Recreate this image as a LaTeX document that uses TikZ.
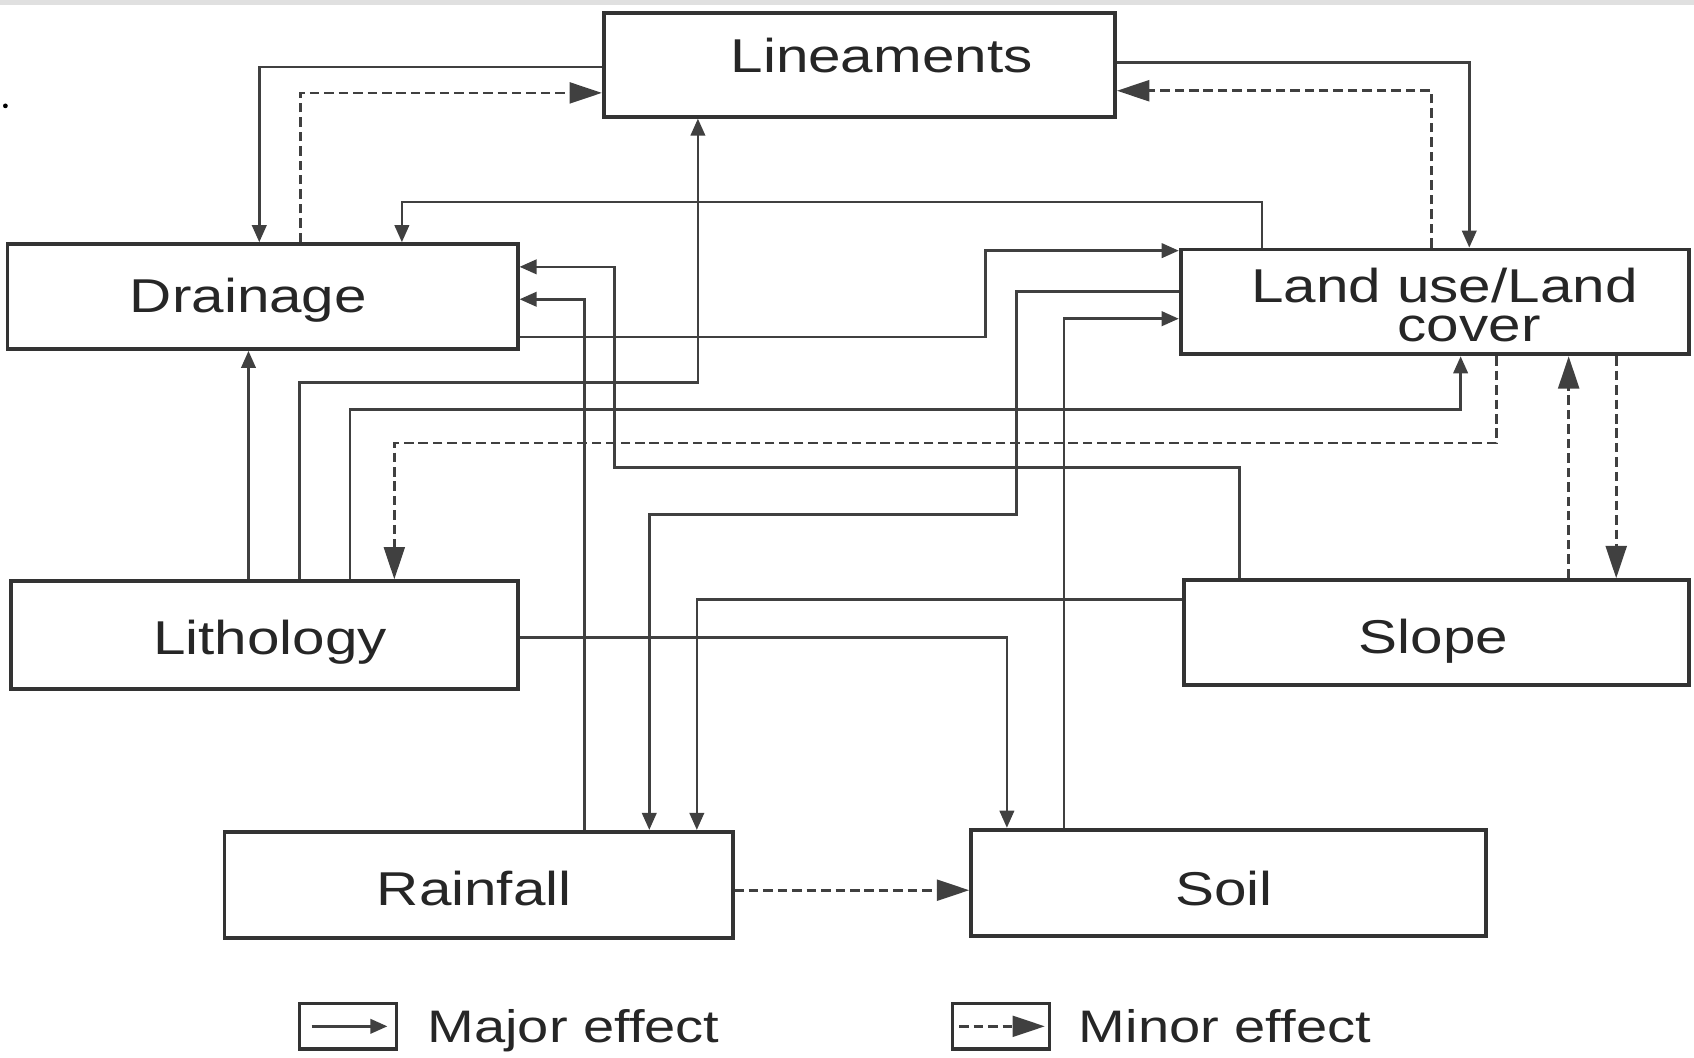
\documentclass[tikz,border=0pt]{standalone}
\usepackage{fontspec}
\setmainfont{Liberation Sans}
\newfontfamily\labfont[FakeStretch=1.23]{Liberation Sans}
\usetikzlibrary{arrows.meta}
\begin{document}
\begin{tikzpicture}[x=0.01cm,y=-0.01cm,
  box/.style={draw=black!80, line width=1pt, rectangle, inner sep=0pt},
  lab/.style={anchor=base, inner sep=0pt, font=\labfont\fontsize{12.5}{14}\selectfont, text=black!85},
  legbox/.style={draw=black!80, line width=0.9pt, rectangle, inner sep=0pt, minimum width=0.9cm, minimum height=0.42cm},
  legtext/.style={anchor=base west, inner sep=0pt, font=\labfont\fontsize{12}{14}\selectfont, text=black!85},
  major/.style={draw=black!75, line width=0.7pt, -{Triangle[length=4.5pt,width=3.8pt]}},
  minor/.style={draw=black!75, line width=0.7pt, dash pattern=on 2.5pt off 1.3pt, -{Triangle[length=8.5pt,width=5.5pt]}}]
\useasboundingbox (0,0) rectangle (1568,979);
\fill[black!12] (0,0) rectangle (1568,5);
\fill[black] (5,98) circle (2.2);

% boxes
\node[box, minimum width=4.73cm, minimum height=0.96cm] (lin) at (795.5,60) {};
\node[box, minimum width=4.72cm, minimum height=0.97cm] (drain) at (243,274.5) {};
\node[box, minimum width=4.70cm, minimum height=0.97cm] (land) at (1328,279.5) {};
\node[box, minimum width=4.69cm, minimum height=1.00cm] (litho) at (244.5,588) {};
\node[box, minimum width=4.67cm, minimum height=0.97cm] (slope) at (1329.5,585.5) {};
\node[box, minimum width=4.70cm, minimum height=0.98cm] (rain) at (443,819) {};
\node[box, minimum width=4.76cm, minimum height=0.98cm] (soil) at (1137,817) {};

% labels
\node[lab] (linT) at (816,67.5) {Lineaments};
\node[lab] (drainT) at (230,289) {Drainage};
\node[lab, anchor=center, align=center, font=\labfont\fontsize{12.5}{10.25}\selectfont] (landT) at (1337,282.5) {Land use/Land\\\hspace*{13pt}cover};
\node[lab] (lithoT) at (250,606) {Lithology};
\node[lab] (slopeT) at (1327,605) {Slope};
\node[lab] (rainT) at (439,838) {Rainfall};
\node[lab] (soilT) at (1133,838) {Soil};

% connectors
\draw[major] (lin.west |- 0,62) -| (drain.north -| 240,0);
\draw[minor] (drain.north -| 278,0) |- (lin.west |- 0,86);
\draw[major] (lin.east |- 0,58) -| (land.north -| 1360,0);
\draw[minor] (land.north -| 1325,0) |- (lin.east |- 0,84);
\draw[major] (land.north -| 1168,0) -- (1168,187) -| (drain.north -| 372,0);
\draw[major] (drain.east |- 0,312) -| (912,232) -- (land.west |- 0,232);
\draw[major] (land.west |- 0,270) -| (941,476) -| (rain.north -| 601,0);
\draw[major] (soil.north -| 985,0) |- (land.west |- 0,295);
\draw[major] (litho.north -| 277,0) |- (646,354) -- (lin.south -| 646,0);
\draw[major] (litho.north -| 324,0) |- (1352,379) -- (land.south -| 1352,0);
\draw[minor] (land.south -| 1385,0) |- (365,410) -- (litho.north -| 365,0);
\draw[major] (litho.north -| 230,0) -- (drain.south -| 230,0);
\draw[major] (slope.north -| 1147,0) |- (569,433) |- (drain.east |- 0,247);
\draw[major] (rain.north -| 541,0) |- (drain.east |- 0,277);
\draw[major] (slope.west |- 0,555) -| (rain.north -| 645,0);
\draw[major] (litho.east |- 0,590) -| (soil.north -| 932,0);
\draw[minor] (rain.east |- 0,824) -- (soil.west |- 0,824);
\draw[minor] (slope.north -| 1452,0) -- (land.south -| 1452,0);
\draw[minor] (land.south -| 1496,0) -- (slope.north -| 1496,0);

% legend
\node[legbox] (leg1) at (322,950) {};
\draw[major] ([xshift=0.13cm]leg1.west) -- ([xshift=-0.1cm]leg1.east);
\node[legtext] (legt1) at (395,965) {Major effect};
\node[legbox] (leg2) at (926.5,950) {};
\draw[minor] ([xshift=0.08cm]leg2.west) -- ([xshift=-0.06cm]leg2.east);
\node[legtext] (legt2) at (998,965) {Minor effect};
\end{tikzpicture}
\end{document}
